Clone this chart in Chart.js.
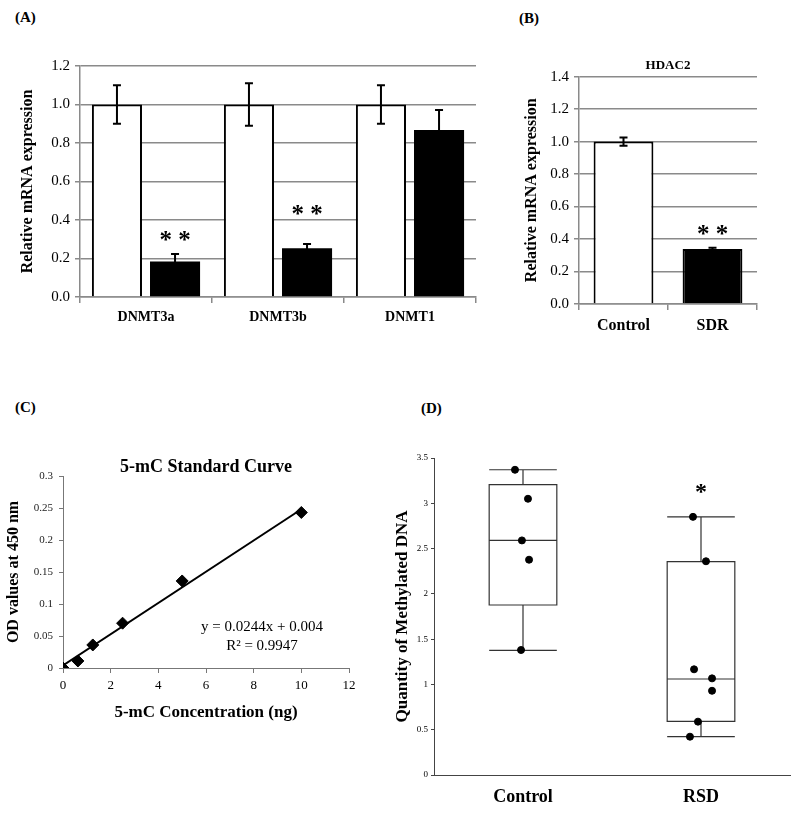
<!DOCTYPE html>
<html>
<head>
<meta charset="utf-8">
<script src="https://cdn.jsdelivr.net/npm/chart.js@4.4.1/dist/chart.umd.min.js"></script>
<style>
  body { margin: 0; background: #fff; width: 800px; height: 813px; position: relative; overflow: hidden; }
  canvas { position: absolute; }
  .tag { position: absolute; font: bold 15px "Liberation Serif", serif; color: #000; }
</style>
</head>
<body>
<div class="tag" style="left:15px;top:9px">(A)</div>
<div class="tag" style="left:519px;top:10px">(B)</div>
<div class="tag" style="left:15px;top:399px">(C)</div>
<div class="tag" style="left:421px;top:400px">(D)</div>

<canvas id="chartA" width="490" height="345" style="left:0;top:0"></canvas>
<canvas id="chartB" width="320" height="345" style="left:480px;top:0"></canvas>
<canvas id="chartC" width="380" height="345" style="left:0;top:390px"></canvas>
<canvas id="chartD" width="420" height="443" style="left:380px;top:370px"></canvas>

<script>
// (A) DNMT expression
const geneLabels = ["DNMT3a", "DNMT3b", "DNMT1"];
const geneControl = [1.0, 1.0, 1.0];
const geneControlErr = [0.1, 0.11, 0.1];
const geneSdr = [0.185, 0.253, 0.868];
const geneSdrErr = [0.038, 0.022, 0.103];
const geneStarY = [0.32, 0.455, null];

// (B) HDAC2
const hdacLabels = ["Control", "SDR"];
const hdacValues = [1.0, 0.338];
const hdacErr = [0.025, 0.008];
const hdacStarY = [null, 0.46];

// (C) standard curve
const stdConc = [0, 0.625, 1.25, 2.5, 5, 10];
const stdOd = [0, 0.011, 0.036, 0.07, 0.136, 0.243];
const fitConc = [0, 10];
const fitOd = [0.004, 0.248];

// (D) methylated DNA box plot
const boxLabels = ["Control", "RSD"];
const boxMin = [1.377, 0.423];
const boxQ1 = [1.877, 0.593];
const boxMed = [2.59, 1.06];
const boxQ3 = [3.205, 2.355];
const boxMax = [3.37, 2.85];
const ctrlJitter = [-0.045, 0.028, -0.006, 0.034, -0.011];
const ctrlPoints = [3.37, 3.05, 2.59, 2.377, 1.38];
const rsdJitter = [-0.045, 0.028, -0.039, 0.062, 0.062, -0.017, -0.062];
const rsdPoints = [2.85, 2.36, 1.167, 1.067, 0.93, 0.589, 0.423];
const boxStarY = 3.18;

const SERIF = '"Liberation Serif", "Times New Roman", serif';
const GRID = "#8a8a8a";

function fixWidth(w) { return (scale) => { scale.width = w; }; }
function fixHeight(h) { return (scale) => { scale.height = h; }; }
const plainNum = (v) => String(+v.toFixed(2));

// error bars + stars drawn at the bars through the chart's scales
function barExtras(errs, stars, cap) {
  return {
    id: "barExtras",
    afterDatasetsDraw(chart) {
      const ctx = chart.ctx;
      const y = chart.scales.y;
      ctx.save();
      ctx.strokeStyle = "#000";
      ctx.lineWidth = 2;
      errs.forEach((err, d) => {
        const meta = chart.getDatasetMeta(d);
        const vals = chart.data.datasets[d].data;
        meta.data.forEach((bar, i) => {
          const top = y.getPixelForValue(vals[i] + err[i]);
          const bot = y.getPixelForValue(vals[i] - err[i]);
          ctx.beginPath();
          ctx.moveTo(bar.x, top); ctx.lineTo(bar.x, bot);
          ctx.moveTo(bar.x - cap, top); ctx.lineTo(bar.x + cap, top);
          ctx.moveTo(bar.x - cap, bot); ctx.lineTo(bar.x + cap, bot);
          ctx.stroke();
        });
      });
      const meta = chart.getDatasetMeta(stars.dataset);
      ctx.fillStyle = "#000";
      ctx.font = "bold 25px " + SERIF;
      ctx.textAlign = "center";
      ctx.textBaseline = "middle";
      stars.y.forEach((v, i) => {
        if (v === null) return;
        ctx.fillText("* *", meta.data[i].x, y.getPixelForValue(v) + 6);
      });
      ctx.restore();
    }
  };
}

new Chart(document.getElementById("chartA"), {
  type: "bar",
  data: {
    labels: geneLabels,
    datasets: [
      { label: "Control", data: geneControl, backgroundColor: "#fff", borderColor: "#000", borderWidth: 2 },
      { label: "SDR", data: geneSdr, backgroundColor: "#000", borderColor: "#000", borderWidth: 0 }
    ]
  },
  options: {
    responsive: false,
    animation: false,
    categoryPercentage: 0.88,
    barPercentage: 0.862,
    layout: { padding: { top: 66, right: 14, left: 0, bottom: 0 } },
    plugins: { legend: { display: false }, tooltip: { enabled: false } },
    scales: {
      x: {
        afterFit: fixHeight(48),
        grid: { drawOnChartArea: false, offset: true, color: GRID, lineWidth: 1.5, tickLength: 6 },
        border: { color: GRID, width: 1.5 },
        ticks: { color: "#000", font: { family: SERIF, size: 14, weight: "bold" }, padding: 6 }
      },
      y: {
        min: 0, max: 1.2,
        afterFit: fixWidth(80),
        grid: { color: GRID, lineWidth: 1.5, tickLength: 5 },
        border: { color: GRID, width: 1.5 },
        ticks: { stepSize: 0.2, color: "#000", font: { family: SERIF, size: 15 }, padding: 5,
                 callback: (v) => v.toFixed(1) },
        title: { display: true, text: "Relative mRNA expression", color: "#000",
                 font: { family: SERIF, size: 16, weight: "bold" }, padding: { top: 18, bottom: 0 } }
      }
    }
  },
  plugins: [barExtras([geneControlErr, geneSdrErr], { dataset: 1, y: geneStarY }, 4)]
});

new Chart(document.getElementById("chartB"), {
  type: "bar",
  data: {
    labels: hdacLabels,
    datasets: [
      { label: "HDAC2", data: hdacValues, backgroundColor: ["#fff", "#000"], borderColor: "#000", borderWidth: 2 }
    ]
  },
  options: {
    responsive: false,
    animation: false,
    categoryPercentage: 0.8,
    barPercentage: 0.84,
    layout: { padding: { top: 0, right: 43, left: 0, bottom: 0 } },
    plugins: {
      legend: { display: false }, tooltip: { enabled: false },
      title: { display: true, text: "HDAC2", color: "#000", font: { family: SERIF, size: 13, weight: "bold" },
               padding: { top: 58, bottom: 3 }, fullSize: false }
    },
    scales: {
      x: {
        afterFit: fixHeight(41),
        grid: { drawOnChartArea: false, offset: true, color: GRID, lineWidth: 1.5, tickLength: 6 },
        border: { color: GRID, width: 1.5 },
        ticks: { color: "#000", font: { family: SERIF, size: 16, weight: "bold" }, padding: 6 }
      },
      y: {
        min: 0, max: 1.4,
        afterFit: fixWidth(99),
        grid: { color: GRID, lineWidth: 1.5, tickLength: 5 },
        border: { color: GRID, width: 1.5 },
        ticks: { stepSize: 0.2, color: "#000", font: { family: SERIF, size: 15 }, padding: 5,
                 callback: (v) => v.toFixed(1) },
        title: { display: true, text: "Relative mRNA expression", color: "#000",
                 font: { family: SERIF, size: 16, weight: "bold" }, padding: { top: 42, bottom: 0 } }
      }
    }
  },
  plugins: [barExtras([hdacErr], { dataset: 0, y: hdacStarY }, 4)]
});

new Chart(document.getElementById("chartC"), {
  type: "scatter",
  data: {
    datasets: [
      { label: "Standards", data: stdConc.map((x, i) => ({ x, y: stdOd[i] })),
        pointStyle: "rectRot", pointRadius: 6, backgroundColor: "#000", borderColor: "#000" },
      { label: "Fit", type: "line", data: fitConc.map((x, i) => ({ x, y: fitOd[i] })),
        borderColor: "#000", borderWidth: 2, pointRadius: 0, showLine: true }
    ]
  },
  options: {
    responsive: false,
    animation: false,
    layout: { padding: { top: 0, right: 31, left: 0, bottom: 0 } },
    plugins: {
      legend: { display: false }, tooltip: { enabled: false },
      title: { display: true, text: "5-mC Standard Curve", color: "#000", fullSize: false,
               font: { family: SERIF, size: 18, weight: "bold", lineHeight: 1 }, padding: { top: 68, bottom: 0 } }
    },
    scales: {
      x: {
        type: "linear", min: 0, max: 12,
        afterFit: fixHeight(67),
        grid: { drawOnChartArea: false, color: "#777", tickLength: 5 },
        border: { color: "#777", width: 1 },
        ticks: { stepSize: 2, color: "#000", font: { family: SERIF, size: 13 }, padding: 5 },
        title: { display: true, text: "5-mC Concentration (ng)", color: "#000",
                 font: { family: SERIF, size: 17, weight: "bold" }, padding: { top: 0, bottom: 12 } }
      },
      y: {
        min: 0, max: 0.3,
        afterFit: fixWidth(63),
        grid: { drawOnChartArea: false, color: "#777", tickLength: 4 },
        border: { color: "#777", width: 1 },
        ticks: { stepSize: 0.05, color: "#222", font: { family: SERIF, size: 11 }, padding: 6, callback: plainNum },
        title: { display: true, text: "OD values at 450 nm", color: "#000",
                 font: { family: SERIF, size: 16, weight: "bold" }, padding: { top: 4, bottom: 0 } }
      }
    }
  },
  plugins: [{
    id: "equation",
    afterDatasetsDraw(chart) {
      const { ctx, scales } = chart;
      const cx = scales.x.getPixelForValue(8.35);
      ctx.save();
      ctx.fillStyle = "#000";
      ctx.font = "15px " + SERIF;
      ctx.textAlign = "center";
      ctx.textBaseline = "middle";
      ctx.fillText("y = 0.0244x + 0.004", cx, scales.y.getPixelForValue(0.064));
      ctx.fillText("R² = 0.9947", cx, scales.y.getPixelForValue(0.034));
      ctx.restore();
    }
  }]
});

new Chart(document.getElementById("chartD"), {
  type: "scatter",
  data: {
    datasets: [
      { label: "Control", data: ctrlPoints.map((y, i) => ({ x: 0 + ctrlJitter[i], y })),
        pointRadius: 3.5, backgroundColor: "#000", borderColor: "#000" },
      { label: "RSD", data: rsdPoints.map((y, i) => ({ x: 1 + rsdJitter[i], y })),
        pointRadius: 3.5, backgroundColor: "#000", borderColor: "#000" }
    ]
  },
  options: {
    responsive: false,
    animation: false,
    layout: { padding: { top: 88, right: 10, left: 0, bottom: 0 } },
    plugins: { legend: { display: false }, tooltip: { enabled: false } },
    scales: {
      x: {
        type: "linear", min: -0.5, max: 1.5,
        afterFit: fixHeight(38),
        afterBuildTicks: (scale) => { scale.ticks = boxLabels.map((_, i) => ({ value: i })); },
        grid: { display: false },
        border: { color: "#444", width: 1 },
        ticks: { color: "#000", font: { family: SERIF, size: 18, weight: "bold" }, padding: 4,
                 callback: (v) => boxLabels[v] }
      },
      y: {
        min: 0, max: 3.5,
        afterFit: fixWidth(54),
        grid: { drawOnChartArea: false, color: "#444", tickLength: 3 },
        border: { color: "#444", width: 1 },
        ticks: { stepSize: 0.5, color: "#000", font: { family: SERIF, size: 9 }, padding: 3, callback: plainNum },
        title: { display: true, text: "Quantity of Methylated DNA", color: "#000",
                 font: { family: SERIF, size: 17, weight: "bold" }, padding: { top: 12, bottom: 0 } }
      }
    }
  },
  plugins: [{
    id: "boxes",
    beforeDatasetsDraw(chart) {
      const { ctx, scales } = chart;
      const half = 0.19;
      ctx.save();
      ctx.strokeStyle = "#333";
      ctx.lineWidth = 1.2;
      boxLabels.forEach((_, i) => {
        const l = scales.x.getPixelForValue(i - half);
        const r = scales.x.getPixelForValue(i + half);
        const c = scales.x.getPixelForValue(i);
        const p = (v) => scales.y.getPixelForValue(v);
        ctx.beginPath();
        ctx.rect(l, p(boxQ3[i]), r - l, p(boxQ1[i]) - p(boxQ3[i]));
        ctx.moveTo(l, p(boxMed[i])); ctx.lineTo(r, p(boxMed[i]));
        ctx.moveTo(c, p(boxQ3[i])); ctx.lineTo(c, p(boxMax[i]));
        ctx.moveTo(c, p(boxQ1[i])); ctx.lineTo(c, p(boxMin[i]));
        ctx.moveTo(l, p(boxMax[i])); ctx.lineTo(r, p(boxMax[i]));
        ctx.moveTo(l, p(boxMin[i])); ctx.lineTo(r, p(boxMin[i]));
        ctx.stroke();
      });
      ctx.restore();
    },
    afterDatasetsDraw(chart) {
      const { ctx, scales } = chart;
      ctx.save();
      ctx.fillStyle = "#000";
      ctx.font = "bold 24px " + SERIF;
      ctx.textAlign = "center";
      ctx.textBaseline = "middle";
      ctx.fillText("*", scales.x.getPixelForValue(1), scales.y.getPixelForValue(boxStarY) + 6);
      ctx.restore();
    }
  }]
});
</script>
</body>
</html>
